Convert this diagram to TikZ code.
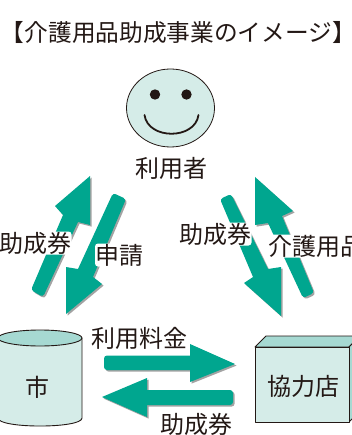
\documentclass[tikz,border=0pt]{standalone}
\usepackage{fontspec}
\usetikzlibrary{shapes.geometric}
\setmainfont{Noto Sans CJK JP}
\definecolor{inkc}{HTML}{231815}
\definecolor{paleteal}{HTML}{D5ECE8}
\definecolor{midteal}{HTML}{A6D9D2}
\definecolor{arrowteal}{HTML}{00A68F}
\definecolor{shadowgray}{HTML}{A3A3A3}
\tikzset{
  lbl/.style={text=inkc,inner sep=0pt,font=\fontsize{24}{24}\selectfont},
  titlelbl/.style={text=inkc,inner sep=0pt,font=\fontsize{23.7}{24}\selectfont},
  haloed/.style={lbl,fill=white,rounded corners=3pt,inner sep=0.5pt,text height=20pt,text depth=2pt},
  shape line/.style={draw=inkc,line width=0.9pt,fill=paleteal,line join=round},
  top line/.style={draw=inkc,line width=0.9pt,fill=midteal,line join=round},
}
\newcommand{\blockarrow}[1]{%
  \fill[shadowgray,shift={(1.6,1.6)}] #1;
  \fill[arrowteal] #1;
}
\begin{document}
\begin{tikzpicture}[x=1pt,y=-1pt]
\useasboundingbox (0,0) rectangle (352,435);
\clip (0,0) rectangle (352,435);
\fill[white] (0,0) rectangle (352,435);

\node[titlelbl] (title) at (178.5,33) {【介護用品助成事業のイメージ】};

% face
\node[draw=inkc,line width=0.8pt,fill=paleteal,ellipse,minimum width=88pt,minimum height=78pt,inner sep=0pt] (face) at (170.5,108) {};
\fill[inkc] (155,94.5) circle[radius=5.2];
\fill[inkc] (186.5,94.5) circle[radius=5.2];
\draw[inkc,line width=1.8pt,line cap=round] (144.5,115) .. controls (148,140) and (195,140) .. (198.5,115);
\node[lbl] (user) at (171,168) {利用者};

% block arrows
\blockarrow{(90,176) -- (90,225) -- (78,222) [rounded corners=3] -- (43,297) -- (31,290) [sharp corners] -- (63,215) -- (55,206) -- cycle}
\blockarrow{(66,314) -- (66,267) -- (78,269) [rounded corners=3] -- (113,193) -- (126,199) [sharp corners] -- (93,277) -- (102,284) -- cycle}
\blockarrow{(281,316) -- (281,267) -- (268,269) [rounded corners=3] -- (231,194) -- (220,199) [sharp corners] -- (253,277) -- (244,283) -- cycle}
\blockarrow{(255,177) -- (255,225) -- (268,223) [rounded corners=3] -- (303,298) -- (314,293) [sharp corners] -- (282,216) -- (293,211) -- cycle}
\blockarrow{(235,364) -- (190,344) -- (190,355.5) [rounded corners=3] -- (104,355.5) -- (104,370) [sharp corners] -- (190,370) -- (190,382) -- cycle}
\blockarrow{(102,397) -- (147,378) -- (147,390) [rounded corners=3] -- (233,390) -- (233,405) [sharp corners] -- (147,405) -- (147,417) -- cycle}

% arrow labels
\node[haloed] (lblA) at (35,243) {助成券};
\node[haloed] (lblB) at (119.5,255) {申請};
\node[haloed] (lblC) at (215,234) {助成券};
\node[haloed,anchor=west] (lblD) at (268,246) {介護用品};
\node[lbl] (lblE) at (139,338) {利用料金};
\node[lbl] (lblF) at (196,424) {助成券};

% cylinder
\path[shape line] (-2,338) -- (-2,418) .. controls (-2,428.7) and (82,428.7) .. (82,418) -- (82,338) -- cycle;
\node[top line,ellipse,minimum width=84pt,minimum height=16pt,inner sep=0pt] (cyltop) at (40,338) {};
\node[lbl] (city) at (37,387) {市};

% box
\path[top line] (255,347) -- (266,336) -- (360,336) -- (349,347) -- cycle;
\path[top line] (349,347) -- (360,336) -- (360,411) -- (349,422) -- cycle;
\path[shape line] (255,347) rectangle (349,422);
\node[lbl] (shop) at (303,386) {協力店};
\end{tikzpicture}
\end{document}
